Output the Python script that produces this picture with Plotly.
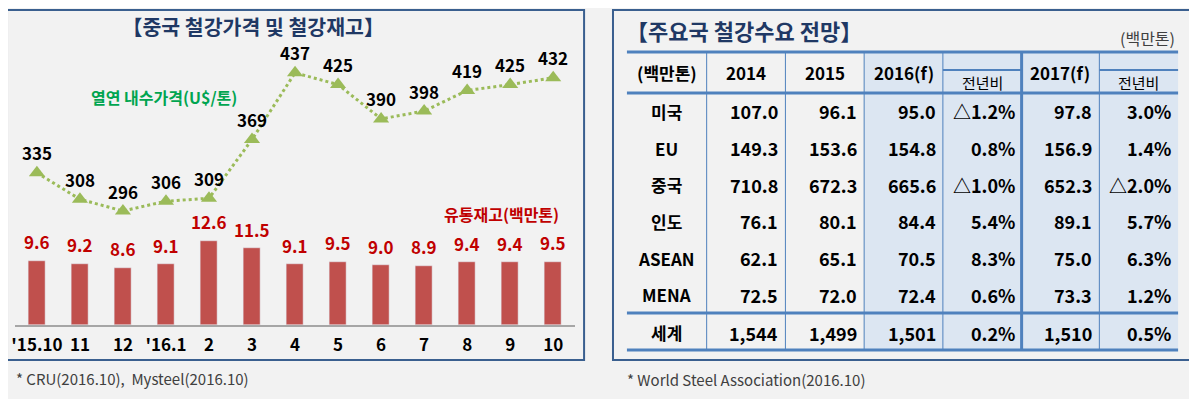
import plotly.graph_objects as go

W, H = 1197, 399
FONT = "Noto Sans CJK KR"
OFF = 8  # page body margin of the browser

# ---------------- data: left chart ----------------
months = ["'15.10", "11", "12", "'16.1", "2", "3", "4", "5", "6", "7", "8", "9", "10"]
hr_price = [335, 308, 296, 306, 309, 369, 437, 425, 390, 398, 419, 425, 432]  # 열연 내수가격(U$/톤)
inventory = [9.6, 9.2, 8.6, 9.1, 12.6, 11.5, 9.1, 9.5, 9.0, 8.9, 9.4, 9.4, 9.5]  # 유통재고(백만톤)

# ---------------- data: right table ----------------
regions = ["미국", "EU", "중국", "인도", "ASEAN", "MENA", "세계"]
d2014 = ["107.0", "149.3", "710.8", "76.1", "62.1", "72.5", "1,544"]
d2015 = ["96.1", "153.6", "672.3", "80.1", "65.1", "72.0", "1,499"]
d2016f = ["95.0", "154.8", "665.6", "84.4", "70.5", "72.4", "1,501"]
yoy2016 = ["△1.2%", "0.8%", "△1.0%", "5.4%", "8.3%", "0.6%", "0.2%"]
d2017f = ["97.8", "156.9", "652.3", "89.1", "75.0", "73.3", "1,510"]
yoy2017 = ["3.0%", "1.4%", "△2.0%", "5.7%", "6.3%", "1.2%", "0.5%"]
headers = ["(백만톤)", "2014", "2015", "2016(f)", "전년비", "2017(f)", "전년비"]


def px(x):
    return (x - OFF) / W


def py(y):
    return 1 - (y - OFF) / H


BLUE_BORDER = "#3a5f8f"
TABLE_LINE = "#4f81bd"
GREEN = "#9bbb59"
BAR = "#c0504d"
RED_TXT = "#c00000"
NAVY = "#1f3864"

fig = go.Figure()

idx = list(range(len(months)))
fig.add_trace(go.Bar(
    x=idx, y=inventory, marker_color=BAR, width=0.4,
    yaxis="y", xaxis="x", hoverinfo="skip"))
fig.add_trace(go.Scatter(
    x=idx, y=hr_price, mode="lines+markers",
    line=dict(color=GREEN, width=3, dash="dot"),
    marker=dict(symbol="triangle-up", size=14, color=GREEN),
    yaxis="y2", xaxis="x", hoverinfo="skip"))

annotations = []
for i, v in zip(idx, inventory):
    annotations.append(dict(x=i, y=v, xref="x", yref="y", text=f"<b>{v:.1f}</b>",
                            showarrow=False, yanchor="middle", yshift=19,
                            font=dict(family=FONT, size=17, color=RED_TXT)))
for i, v in zip(idx, hr_price):
    annotations.append(dict(x=i, y=v, xref="x", yref="y2", text=f"<b>{v}</b>",
                            showarrow=False, yanchor="middle", yshift=20,
                            font=dict(family=FONT, size=17, color="black")))

# left chart texts
annotations += [
    dict(x=px(250), y=py(26), xref="paper", yref="paper", text="<b>【중국 철강가격 및 철강재고】</b>",
         showarrow=False, xanchor="center", yanchor="middle",
         font=dict(family=FONT, size=20.5, color=NAVY)),
    dict(x=px(161), y=py(97), xref="paper", yref="paper", text="<b>열연 내수가격(U$/톤)</b>",
         showarrow=False, xanchor="center", yanchor="middle",
         font=dict(family=FONT, size=16, color="#00a550")),
    dict(x=px(499), y=py(214), xref="paper", yref="paper", text="<b>유통재고(백만톤)</b>",
         showarrow=False, xanchor="center", yanchor="middle",
         font=dict(family=FONT, size=16, color=RED_TXT)),
    dict(x=px(10), y=py(378), xref="paper", yref="paper", text="* CRU(2016.10),  Mysteel(2016.10)",
         showarrow=False, xanchor="left", yanchor="middle",
         font=dict(family=FONT, size=15, color="#404040")),
    dict(x=px(623), y=py(379), xref="paper", yref="paper", text="* World Steel Association(2016.10)",
         showarrow=False, xanchor="left", yanchor="middle",
         font=dict(family=FONT, size=15, color="#404040")),
    dict(x=px(622), y=py(30), xref="paper", yref="paper", text="<b>【주요국 철강수요 전망】</b>",
         showarrow=False, xanchor="left", yanchor="middle",
         font=dict(family=FONT, size=22, color=NAVY)),
    dict(x=px(1177), y=py(38), xref="paper", yref="paper", text="(백만톤)",
         showarrow=False, xanchor="right", yanchor="middle",
         font=dict(family=FONT, size=16, color="#404040")),
]

shapes = []
# panel borders
shapes.append(dict(type="rect", xref="paper", yref="paper", x0=px(3), x1=px(582), y0=py(10), y1=py(360),
                   line=dict(color=BLUE_BORDER, width=2), fillcolor="rgba(0,0,0,0)"))
shapes.append(dict(type="rect", xref="paper", yref="paper", x0=px(611), x1=px(1190), y0=py(10), y1=py(360),
                   line=dict(color=BLUE_BORDER, width=2), fillcolor="rgba(0,0,0,0)"))

# ---------------- table geometry ----------------
col_x = [625, 705, 784, 863, 942, 1021, 1099, 1178]
t_top, h_bot, w_top, t_bot = 52, 93, 313, 350
sub_y = 70
row_h = (w_top - h_bot) / 6

# shaded forecast columns
shapes.append(dict(type="rect", xref="paper", yref="paper", x0=px(col_x[3]), x1=px(col_x[7]),
                   y0=py(t_top), y1=py(t_bot), line=dict(width=0), fillcolor="#dce6f2", layer="below"))
# vertical lines
for i in [1, 2, 3, 4, 6]:
    shapes.append(dict(type="line", xref="paper", yref="paper", x0=px(col_x[i]), x1=px(col_x[i]),
                       y0=py(t_top), y1=py(t_bot), line=dict(color=TABLE_LINE, width=1)))
shapes.append(dict(type="line", xref="paper", yref="paper", x0=px(col_x[5]), x1=px(col_x[5]),
                   y0=py(t_top), y1=py(t_bot), line=dict(color=TABLE_LINE, width=3)))
# sub-header lines
for a, b in [(4, 5), (6, 7)]:
    shapes.append(dict(type="line", xref="paper", yref="paper", x0=px(col_x[a]), x1=px(col_x[b]),
                       y0=py(sub_y), y1=py(sub_y), line=dict(color=TABLE_LINE, width=2)))
# horizontal thick lines
for yy in [t_top, h_bot, w_top, t_bot]:
    shapes.append(dict(type="line", xref="paper", yref="paper", x0=px(col_x[0]), x1=px(col_x[7]),
                       y0=py(yy), y1=py(yy), line=dict(color=TABLE_LINE, width=3)))

# header texts
for i, h in enumerate(headers):
    cx = (col_x[i] + col_x[i + 1]) / 2
    if h == "전년비":
        annotations.append(dict(x=px(cx), y=py((sub_y + h_bot) / 2 + 1), xref="paper", yref="paper",
                                text=h, showarrow=False, xanchor="center", yanchor="middle",
                                font=dict(family=FONT, size=15, color="black")))
    else:
        annotations.append(dict(x=px(cx), y=py((t_top + h_bot) / 2), xref="paper", yref="paper",
                                text=f"<b>{h}</b>", showarrow=False, xanchor="center", yanchor="middle",
                                font=dict(family=FONT, size=17, color="black")))

cols = [d2014, d2015, d2016f, yoy2016, d2017f, yoy2017]
for r, name in enumerate(regions):
    if r < 6:
        cy = h_bot + row_h * (r + 0.5)
    else:
        cy = (w_top + t_bot) / 2 + 1
    annotations.append(dict(x=px((col_x[0] + col_x[1]) / 2), y=py(cy), xref="paper", yref="paper",
                            text=f"<b>{name}</b>", showarrow=False, xanchor="center", yanchor="middle",
                            font=dict(family=FONT, size=17, color="black")))
    for c, col in enumerate(cols):
        annotations.append(dict(x=px(col_x[c + 2] - 5), y=py(cy), xref="paper", yref="paper",
                                text=f"<b>{col[r]}</b>", showarrow=False, xanchor="right", yanchor="middle",
                                font=dict(family=FONT, size=18, color="black")))

n = len(months)
fig.update_layout(
    width=W, height=H,
    margin=dict(l=0, r=0, t=0, b=0),
    paper_bgcolor="#f2f2f2", plot_bgcolor="rgba(0,0,0,0)",
    showlegend=False, bargap=0,
    xaxis=dict(domain=[px(11.4), px(572.6)], range=[-0.5, n - 0.5],
               showline=True, linecolor="#a6a6a6", linewidth=2, showgrid=False, zeroline=False,
               ticks="", tickmode="array", tickvals=idx, ticktext=[f"<b>{m}</b>" for m in months],
               tickfont=dict(family=FONT, size=17, color="black"), ticklabelstandoff=4,
               ticklabeloverflow="allow",
               anchor="y", fixedrange=True),
    yaxis=dict(domain=[py(325), py(45)], range=[0, 42], visible=False, fixedrange=True),
    yaxis2=dict(domain=[py(325), py(45)], range=[179.7, 465.4], overlaying="y", visible=False,
                fixedrange=True),
    annotations=annotations, shapes=shapes,
)

fig.write_html("out.html")
